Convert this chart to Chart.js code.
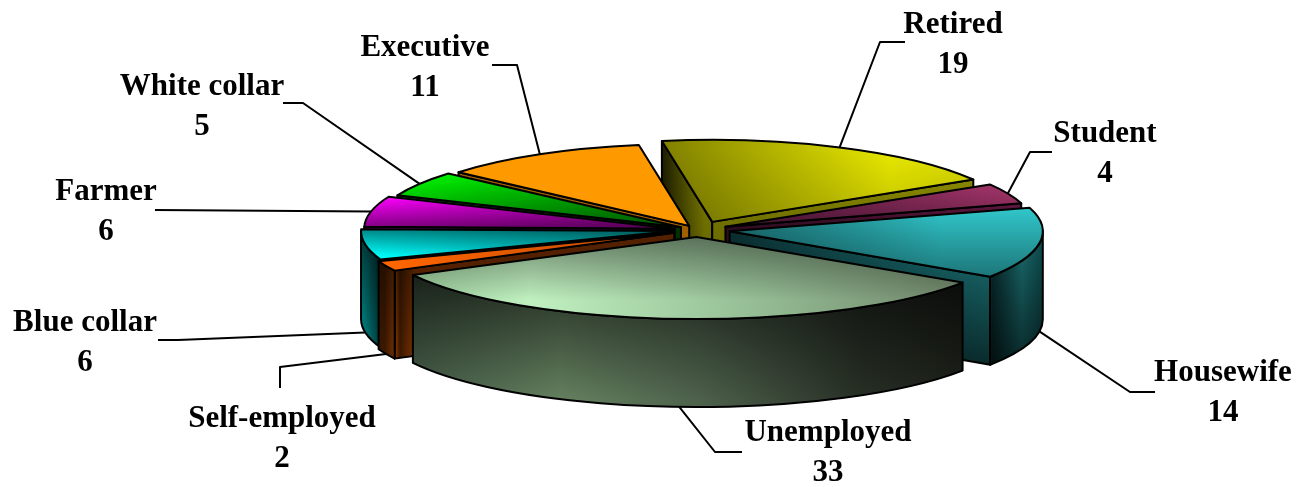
<!DOCTYPE html>
<html>
<head>
<meta charset="utf-8">
<title>Occupation pie</title>
<script src="https://cdn.jsdelivr.net/npm/chart.js@4/dist/chart.umd.min.js"></script>
<style>
  body { margin: 0; background: #fff; }
  canvas { display: block; }
</style>
</head>
<body>
<canvas id="pie" width="1299" height="487"></canvas>
<script>
const categories = ['Retired', 'Student', 'Housewife', 'Unemployed', 'Self-employed', 'Blue collar', 'Farmer', 'White collar', 'Executive'];
const values = [19, 4, 14, 33, 2, 6, 6, 5, 11];
const baseColors = ['#b5b500', '#8f2f62', '#2aa5a8', '#8fb58f', '#ff6600', '#00d0d0', '#d000d0', '#00c000', '#ff9900'];

// fake 3d: the flat pie gets squashed to this ellipse and extruded
const CX = 698, CY = 230, RX = 312, RY = 82, DEPTH = 88;
const PERSPECTIVE = 0.025; // front slices a bit bigger than back ones
const explode = [34, 30, 32, 27, 26, 24, 24, 20, 18];

// colour stops are [screen position, colour]
const clear = 'rgba(0,0,0,0)';
const topH = [
  [[660, '#7f7f00'], [890, '#e8e800'], [990, '#d8d800']],
  [[720, '#5c1a42'], [1020, '#a03468']],
  [[730, '#1a7073'], [940, '#30c4c8'], [1040, '#30c4c8']],
  [[416, '#9fd09f'], [530, '#c0f0c0'], [760, '#94bc94'], [965, '#6f8569']],
  [[385, '#ff6600'], [600, '#d05000'], [690, '#804000']],
  [[362, '#00ffff'], [680, '#00a0a0']],
  [[362, '#ff00ff'], [680, '#a000a0']],
  [[395, '#00ff00'], [680, '#00a000']],
  [[450, '#ff9900'], [690, '#ff9900']]
];
const topV = [
  [[150, clear], [225, 'rgba(0,0,0,0.18)']],
  [[190, clear], [225, 'rgba(0,0,0,0.3)']],
  [[210, clear], [280, 'rgba(0,0,0,0.42)']],
  [[240, 'rgba(0,0,0,0.42)'], [300, clear]],
  [[240, clear], [270, clear]],
  [[228, 'rgba(0,0,0,0.5)'], [256, clear]],
  [[198, clear], [228, 'rgba(0,0,0,0.5)']],
  [[175, clear], [225, 'rgba(0,0,0,0.45)']],
  [[140, clear], [225, clear]]
];
const wallH = [
  [[662, '#1c1c00'], [705, '#7f7f00'], [990, '#8f8f00']],
  [[720, '#300c22'], [1020, '#60183f']],
  [[730, '#0a2c2e'], [990, '#1a7073'], [992, '#08282a'], [1022, '#1a6a6c'], [1042, '#0e4a4c']],
  [[416, '#48604a'], [560, '#64805f'], [700, '#4d614b'], [860, '#283026'], [965, '#1c2119']],
  [[385, '#3a1800'], [396, '#7a3300'], [400, '#3a1800'], [416, '#803300']],
  [[362, '#008888'], [382, '#002c2c']],
  [[362, '#600060'], [680, '#300030']],
  [[395, '#006000'], [680, '#003000']],
  [[450, '#a06000'], [690, '#a06000']]
];
const wallV = [
  [[150, clear], [320, 'rgba(0,0,0,0.3)']],
  [[190, clear], [320, 'rgba(0,0,0,0.3)']],
  [[240, clear], [365, 'rgba(0,0,0,0.62)']],
  [[275, 'rgba(0,0,0,0.65)'], [400, clear]],
  [[270, 'rgba(0,0,0,0.35)'], [350, clear]],
  [[230, 'rgba(0,0,0,0.6)'], [340, clear]],
  [[200, clear], [300, clear]],
  [[180, clear], [300, clear]],
  [[170, clear], [300, clear]]
];

// text and leader lines, [x, y] of the label block and elbow points out from the rim
const labelPos = [[953, 25], [1105, 134], [1223, 373], [828, 433], [282, 419], [85, 323], [106, 192], [202, 87], [425, 48]];
const leaderPts = [
  [[880, 42], [905, 42]],
  [[1030, 152], [1052, 152]],
  [[1130, 392], [1155, 392]],
  [[715, 452], [742, 452]],
  [[280, 367], [280, 388]],
  [[178, 340], [158, 340]],
  [[155, 210]],
  [[303, 103], [283, 103]],
  [[517, 65], [492, 65]]
];
const LINE_H = 40;

function gradient(ctx, stops, horizontal, map) {
  const a = stops[0][0], b = stops[stops.length - 1][0];
  const g = horizontal
    ? ctx.createLinearGradient(map(a), 0, map(b), 0)
    : ctx.createLinearGradient(0, map(a), 0, map(b));
  stops.forEach(s => g.addColorStop((s[0] - a) / (b - a), s[1]));
  return g;
}

const pie3d = {
  id: 'pie3d',
  beforeDatasetsDraw(chart) {
    const ctx = chart.ctx;
    const arcs = chart.getDatasetMeta(0).data;
    const R = arcs[0].outerRadius;

    const midOf = i => (arcs[i].startAngle + arcs[i].endAngle) / 2;
    const grow = i => 1 + PERSPECTIVE * Math.sin(midOf(i));
    const shift = i => [
      CX + Math.cos(midOf(i)) * explode[i],
      CY + Math.sin(midOf(i)) * explode[i] * RY / RX
    ];
    const corner = (i, a) => {
      const c = shift(i);
      return [c[0] + Math.cos(a) * RX * grow(i), c[1] + Math.sin(a) * RY];
    };

    const paint = (i, hs, vs) => {
      ctx.fillStyle = gradient(ctx, hs[i], true, x => x);
      ctx.fill();
      ctx.fillStyle = gradient(ctx, vs[i], false, y => y);
      ctx.fill();
    };

    const drawFace = (i, a) => {
      const c = shift(i), p = corner(i, a);
      ctx.beginPath();
      ctx.moveTo(c[0], c[1]);
      ctx.lineTo(p[0], p[1]);
      ctx.lineTo(p[0], p[1] + DEPTH);
      ctx.lineTo(c[0], c[1] + DEPTH);
      ctx.closePath();
      paint(i, wallH, wallV);
      ctx.stroke();
    };

    const drawWall = (i) => {
      const from = Math.max(arcs[i].startAngle, 0), to = Math.min(arcs[i].endAngle, Math.PI);
      if (to <= from) return;
      const c = shift(i), rx = RX * grow(i);
      ctx.beginPath();
      ctx.ellipse(c[0], c[1], rx, RY, 0, from, to);
      ctx.ellipse(c[0], c[1] + DEPTH, rx, RY, 0, to, from, true);
      ctx.closePath();
      paint(i, wallH, wallV);
      ctx.stroke();
    };

    const drawTop = (i) => {
      const arc = arcs[i], c = shift(i), keep = arc.options, rx = RX * grow(i);
      const sx = rx / R, sy = RY / R;
      const lx = x => arc.x + (x - c[0]) / sx, ly = y => arc.y + (y - c[1]) / sy;
      ctx.save();
      ctx.translate(c[0], c[1]);
      ctx.scale(sx, sy);
      ctx.translate(-arc.x, -arc.y);
      arc.options = Object.assign({}, keep, { backgroundColor: gradient(ctx, topH[i], true, lx) });
      arc.draw(ctx);
      arc.options = Object.assign({}, keep, { backgroundColor: gradient(ctx, topV[i], false, ly) });
      arc.draw(ctx);
      arc.options = keep;
      ctx.restore();
      ctx.beginPath();
      ctx.moveTo(c[0], c[1]);
      ctx.ellipse(c[0], c[1], rx, RY, 0, arc.startAngle, arc.endAngle);
      ctx.closePath();
      ctx.stroke();
    };

    ctx.save();
    ctx.strokeStyle = '#000';
    ctx.lineWidth = 2;
    ctx.lineJoin = 'round';

    // back slices first
    const order = arcs.map((a, i) => i).sort((p, q) => Math.sin(midOf(p)) - Math.sin(midOf(q)));
    order.forEach(i => {
      const s = arcs[i].startAngle, e = arcs[i].endAngle;
      if (Math.cos(s) < 0) drawFace(i, s);
      if (Math.cos(e) > 0) drawFace(i, e);
      drawWall(i);
      drawTop(i);
    });

    // leader lines start at the slice rim (bottom of the wall on front slices)
    arcs.forEach((arc, i) => {
      const mid = midOf(i);
      const p = corner(i, mid);
      if (Math.sin(mid) > 0.1) p[1] += DEPTH;
      ctx.beginPath();
      ctx.moveTo(p[0], p[1]);
      leaderPts[i].forEach(q => ctx.lineTo(q[0], q[1]));
      ctx.stroke();
    });

    ctx.fillStyle = '#000';
    ctx.font = 'bold 31px "Liberation Serif"';
    ctx.textAlign = 'center';
    ctx.textBaseline = 'middle';
    categories.forEach((name, i) => {
      ctx.fillText(name, labelPos[i][0], labelPos[i][1]);
      ctx.fillText(String(values[i]), labelPos[i][0], labelPos[i][1] + LINE_H);
    });
    ctx.restore();
    return false;
  }
};

new Chart(document.getElementById('pie').getContext('2d'), {
  type: 'pie',
  data: {
    labels: categories,
    datasets: [{ data: values, backgroundColor: baseColors, borderWidth: 0 }]
  },
  options: {
    responsive: false,
    animation: false,
    rotation: -9.5,
    plugins: { legend: { display: false }, tooltip: { enabled: false } }
  },
  plugins: [pie3d]
});
</script>
</body>
</html>
